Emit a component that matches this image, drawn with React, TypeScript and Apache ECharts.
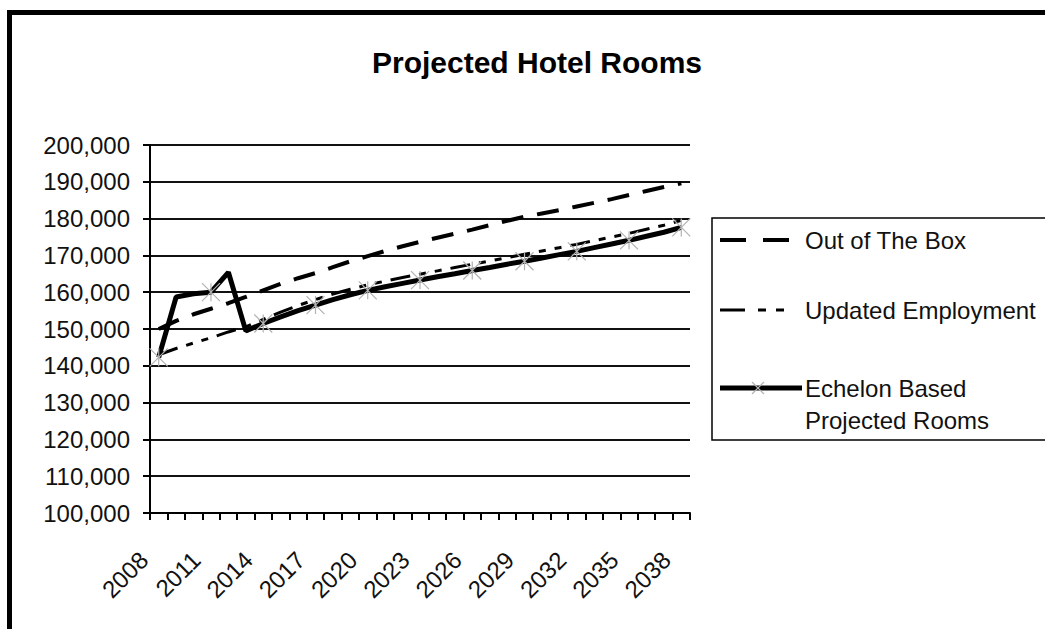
import React, { useEffect, useRef } from 'react';
import * as echarts from 'echarts';

const years = [
  '2008', '2009', '2010', '2011', '2012', '2013', '2014', '2015', '2016', '2017',
  '2018', '2019', '2020', '2021', '2022', '2023', '2024', '2025', '2026', '2027',
  '2028', '2029', '2030', '2031', '2032', '2033', '2034', '2035', '2036', '2037', '2038',
];

const outOfTheBox = [
  150000, 152200, 154000, 155500, 157000, 158700, 160500, 162300, 163800, 165200,
  166800, 168400, 169800, 171200, 172500, 173700, 174800, 175900, 177000, 178200,
  179400, 180500, 181400, 182300, 183300, 184300, 185300, 186400, 187500, 188600, 189600,
];

const updatedEmployment = [
  143000, 144700, 146200, 147600, 149200, 150600, 152600, 154600, 156400, 158000,
  159500, 160800, 162000, 163000, 164000, 164900, 165800, 166700, 167600, 168500,
  169400, 170300, 171200, 172100, 173000, 174000, 175000, 176000, 177100, 178200, 179500,
];

const echelonRooms = [
  142300, 158700, 159600, 160000, 165400, 149500, 151500, 153300, 155000, 156500,
  158000, 159300, 160500, 161500, 162400, 163300, 164200, 165000, 165900, 166700,
  167600, 168400, 169300, 170200, 171100, 172100, 173100, 174100, 175200, 176300, 177600,
];

const seriesNames = ['Out of The Box', 'Updated Employment', 'Echelon Based\nProjected Rooms'];
const chartTitle = 'Projected Hotel Rooms';
const yMin = 100000;
const yMax = 200000;
const yStep = 10000;

const FONT = '"Liberation Sans", Arial, sans-serif';
const STAR = 'path://M0,0L10,10M10,0L0,10M5,0L5,10';
const MARKER_GRAY = '#b2b2b2';

export default function App() {
  const ref = useRef<HTMLDivElement>(null);

  useEffect(() => {
    const chart = echarts.init(ref.current as HTMLDivElement, null, { renderer: 'svg' });
    const lx = 712;
    const ly = 218;
    chart.setOption({
      animation: false,
      backgroundColor: '#ffffff',
      textStyle: { fontFamily: FONT },
      grid: { left: 150, right: 355, top: 145, bottom: 116, containLabel: false },
      xAxis: {
        type: 'category',
        data: years,
        boundaryGap: true,
        axisLine: { lineStyle: { color: '#000', width: 2 } },
        axisTick: { show: true, interval: 0, length: 7, lineStyle: { color: '#000', width: 2 } },
        axisLabel: {
          interval: 2,
          rotate: 45,
          margin: 28,
          padding: [0, 21, 0, 0],
          color: '#111',
          fontSize: 24,
          fontFamily: FONT,
        },
        splitLine: { show: false },
      },
      yAxis: {
        type: 'value',
        min: yMin,
        max: yMax,
        interval: yStep,
        axisLine: { show: true, lineStyle: { color: '#000', width: 2 } },
        axisTick: { show: true, length: 7, lineStyle: { color: '#000', width: 2 } },
        axisLabel: {
          margin: 20,
          color: '#111',
          fontSize: 24,
          fontFamily: FONT,
          formatter: (v: number) => v.toLocaleString('en-US'),
        },
        splitLine: { show: true, lineStyle: { color: '#111', width: 2 } },
      },
      series: [
        {
          name: seriesNames[0],
          type: 'line',
          data: outOfTheBox,
          symbol: 'none',
          lineStyle: { color: '#000', width: 4, type: [22, 14] },
          z: 2,
        },
        {
          name: seriesNames[1],
          type: 'line',
          data: updatedEmployment,
          symbol: 'none',
          lineStyle: { color: '#000', width: 3, type: [20, 9, 7, 9, 7, 9] },
          z: 3,
        },
        {
          name: seriesNames[2],
          type: 'line',
          data: echelonRooms,
          symbol: STAR,
          symbolSize: 18,
          showSymbol: true,
          itemStyle: { color: 'rgba(0,0,0,0)', borderColor: MARKER_GRAY, borderWidth: 1.2 },
          lineStyle: { color: '#000', width: 5 },
          z: 4,
        },
      ],
      graphic: [
        {
          type: 'rect',
          shape: { x: 9.5, y: 12.5, width: 1200, height: 800 },
          style: { fill: 'none', stroke: '#000', lineWidth: 5 },
          silent: true,
        },
        {
          type: 'text',
          x: 537,
          y: 62,
          style: {
            text: chartTitle,
            fill: '#000',
            font: `bold 30px ${FONT}`,
            textAlign: 'center',
            textVerticalAlign: 'middle',
          },
        },
        {
          type: 'group',
          children: [
            {
              type: 'rect',
              shape: { x: lx, y: ly, width: 400, height: 222 },
              style: { fill: '#fff', stroke: '#000', lineWidth: 1.5 },
            },
            {
              type: 'line',
              shape: { x1: 720, y1: 240, x2: 790, y2: 240 },
              style: { stroke: '#000', lineWidth: 4, lineDash: [26, 17] },
            },
            {
              type: 'text',
              x: 805,
              y: 240,
              style: { text: seriesNames[0], fill: '#111', font: `24px ${FONT}`, textVerticalAlign: 'middle' },
            },
            {
              type: 'line',
              shape: { x1: 720, y1: 310, x2: 792, y2: 310 },
              style: { stroke: '#000', lineWidth: 3, lineDash: [25, 13, 8, 10, 8, 13] },
            },
            {
              type: 'text',
              x: 805,
              y: 310,
              style: { text: seriesNames[1], fill: '#111', font: `24px ${FONT}`, textVerticalAlign: 'middle' },
            },
            {
              type: 'line',
              shape: { x1: 720, y1: 388, x2: 802, y2: 388 },
              style: { stroke: '#000', lineWidth: 5 },
            },
            {
              type: 'line',
              shape: { x1: 752, y1: 382, x2: 764, y2: 394 },
              style: { stroke: MARKER_GRAY, lineWidth: 1.2 },
            },
            {
              type: 'line',
              shape: { x1: 764, y1: 382, x2: 752, y2: 394 },
              style: { stroke: MARKER_GRAY, lineWidth: 1.2 },
            },
            {
              type: 'text',
              x: 805,
              y: 372,
              style: {
                text: seriesNames[2],
                fill: '#111',
                font: `24px ${FONT}`,
                lineHeight: 32,
                textVerticalAlign: 'top',
              },
            },
          ],
        },
      ],
    });
    return () => chart.dispose();
  }, []);

  return (
    <div
      ref={ref}
      style={{ position: 'fixed', left: 0, top: 0, width: 1045, height: 629, background: '#fff' }}
    />
  );
}
